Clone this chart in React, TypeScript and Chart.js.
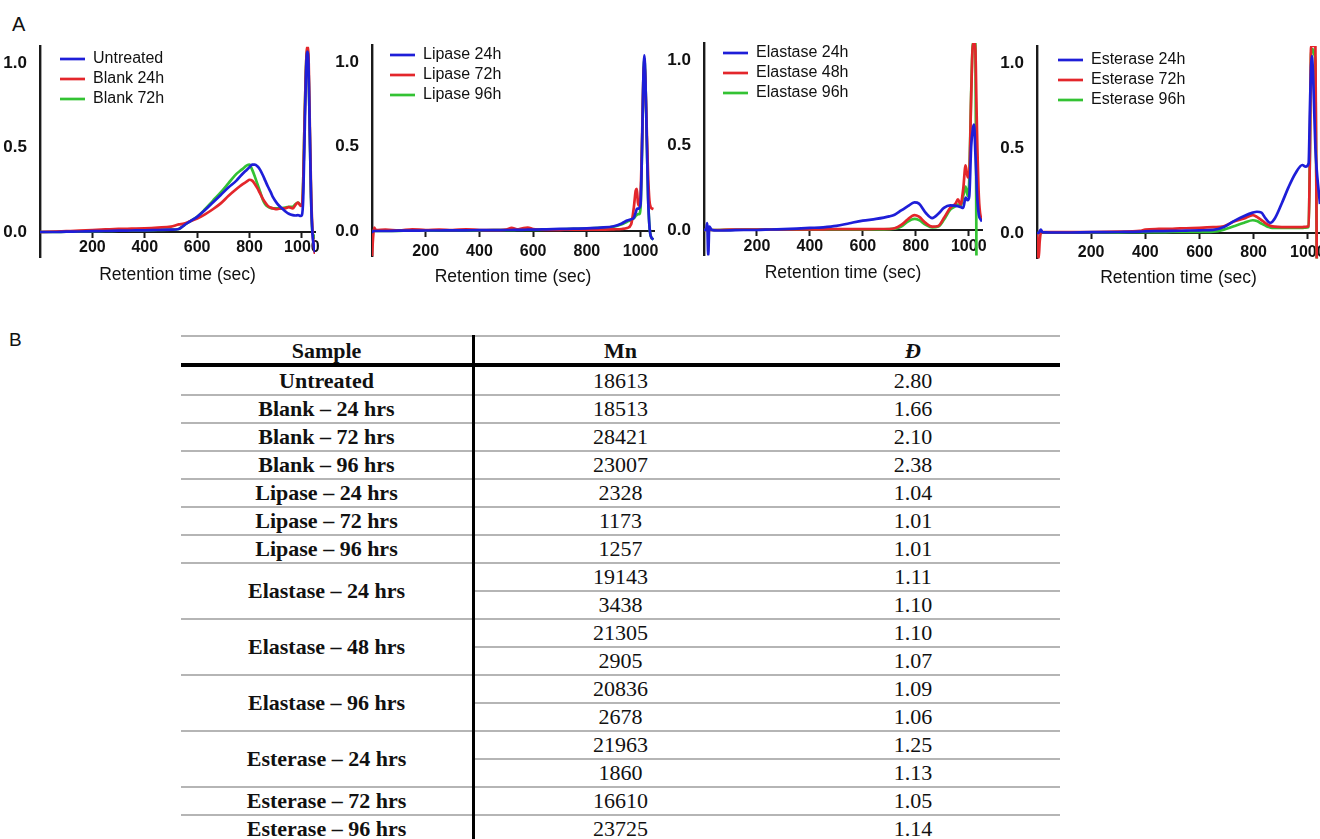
import React, { useEffect, useRef } from "react";
import { Chart, registerables } from "chart.js";

Chart.register(...registerables);

const SANS = '"Liberation Sans", Arial, sans-serif';
const SERIF = '"Liberation Serif", "Times New Roman", serif';

const BLUE = "#1e1ed8";
const RED = "#e3262b";
const GREEN = "#33c233";

// ---------------- Data: panel 1 (Untreated / Blank) ----------------
const timesBlank = [0, 50, 100, 150, 200, 250, 300, 350, 400, 450, 500, 530, 550, 575, 600, 630, 660, 690, 720, 750, 770, 790, 800, 810, 820, 830, 840, 850, 860, 870, 880, 890, 905, 920, 935, 950, 965, 975, 985, 995, 1000, 1005, 1010, 1015, 1020, 1025, 1030, 1035, 1040, 1045, 1050];
const untreated = [0, 0, 0.002, 0.003, 0.005, 0.006, 0.008, 0.009, 0.01, 0.012, 0.014, 0.018, 0.04, 0.065, 0.09, 0.13, 0.175, 0.22, 0.265, 0.305, 0.34, 0.37, 0.385, 0.4, 0.4, 0.39, 0.37, 0.34, 0.305, 0.27, 0.24, 0.205, 0.17, 0.145, 0.125, 0.108, 0.1, 0.098, 0.1, 0.095, 0.1, 0.2, 0.55, 0.9, 1.07, 1.0, 0.6, 0.2, 0.0, -0.08, -0.12];
const blank24 = [0, 0.002, 0.005, 0.008, 0.012, 0.015, 0.018, 0.02, 0.022, 0.026, 0.032, 0.045, 0.05, 0.065, 0.08, 0.105, 0.135, 0.17, 0.215, 0.255, 0.28, 0.3, 0.31, 0.305, 0.285, 0.26, 0.23, 0.2, 0.175, 0.155, 0.145, 0.14, 0.135, 0.14, 0.14, 0.148, 0.14, 0.16, 0.175, 0.155, 0.16, 0.3, 0.65, 0.95, 1.1, 1.05, 0.65, 0.25, 0.02, -0.08, -0.13];
const blank72 = [0, 0, 0.002, 0.003, 0.005, 0.006, 0.008, 0.009, 0.01, 0.012, 0.014, 0.018, 0.04, 0.065, 0.09, 0.135, 0.185, 0.235, 0.29, 0.345, 0.37, 0.395, 0.4, 0.37, 0.33, 0.285, 0.24, 0.195, 0.165, 0.15, 0.143, 0.14, 0.14, 0.14, 0.145, 0.15, 0.15, 0.165, 0.175, 0.16, 0.16, 0.3, 0.65, 0.95, 1.08, 1.0, 0.6, 0.2, 0.0, -0.02, -0.04];

// ---------------- Data: panel 2 (Lipase) ----------------
const timesLipase = [0, 4, 8, 15, 50, 100, 150, 200, 250, 300, 350, 400, 450, 500, 520, 540, 560, 580, 600, 650, 700, 750, 800, 850, 900, 930, 950, 965, 975, 982, 986, 990, 995, 1000, 1005, 1010, 1014, 1018, 1023, 1028, 1033, 1038, 1048];
const lipase24 = [-0.01, 0, 0, 0, 0, 0.002, 0.002, 0.003, 0.003, 0.004, 0.004, 0.005, 0.005, 0.006, 0.006, 0.007, 0.007, 0.008, 0.008, 0.01, 0.012, 0.014, 0.016, 0.02, 0.028, 0.045, 0.062, 0.07, 0.078, 0.11, 0.13, 0.132, 0.135, 0.16, 0.45, 0.88, 1.04, 0.9, 0.55, 0.2, 0.03, -0.03, -0.05];
const lipase72 = [-0.15, -0.04, 0.02, 0.005, 0.008, 0.004, 0.01, 0.006, 0.009, 0.006, 0.01, 0.006, 0.005, 0.008, 0.018, 0.01, 0.016, 0.02, 0.012, 0.006, 0.007, 0.008, 0.008, 0.008, 0.01, 0.012, 0.018, 0.04, 0.14, 0.24, 0.25, 0.17, 0.15, 0.22, 0.5, 0.88, 0.98, 0.88, 0.6, 0.33, 0.18, 0.14, 0.13];
const lipase96 = [0, 0, 0, 0, 0, 0.001, 0.002, 0.002, 0.003, 0.003, 0.004, 0.004, 0.005, 0.005, 0.005, 0.006, 0.006, 0.007, 0.007, 0.008, 0.01, 0.012, 0.014, 0.018, 0.025, 0.04, 0.055, 0.065, 0.075, 0.09, 0.095, 0.1, 0.1, 0.14, 0.45, 0.87, 1.02, 0.9, 0.55, 0.2, 0.03, -0.03, -0.05];

// ---------------- Data: panel 3 (Elastase) ----------------
const timesElastase = [0, 8, 12, 16, 20, 30, 50, 100, 150, 200, 250, 300, 350, 400, 450, 500, 550, 600, 650, 700, 720, 745, 770, 795, 812, 838, 862, 885, 906, 930, 950, 959, 969, 979, 988, 996, 1002, 1009, 1016, 1020, 1025, 1029, 1031, 1038, 1046, 1050];
const elastase24 = [0, 0, 0.04, -0.15, 0.02, 0, -0.003, -0.002, 0, 0, 0.003, 0.005, 0.008, 0.012, 0.016, 0.024, 0.04, 0.055, 0.065, 0.08, 0.09, 0.115, 0.14, 0.162, 0.155, 0.1, 0.07, 0.095, 0.13, 0.145, 0.142, 0.14, 0.135, 0.13, 0.19, 0.175, 0.2, 0.49, 0.6, 0.62, 0.45, 0.3, 0.22, 0.09, 0.06, 0.05];
const elastase48 = [0, 0, 0, 0, 0, 0, 0, 0.002, 0.002, 0.003, 0.003, 0.003, 0.004, 0.004, 0.004, 0.005, 0.005, 0.005, 0.006, 0.006, 0.01, 0.03, 0.063, 0.088, 0.078, 0.04, 0.02, 0.024, 0.07, 0.13, 0.155, 0.18, 0.15, 0.24, 0.38, 0.31, 0.33, 0.78, 1.1, 1.1, 1.06, 0.75, 0.59, 0.2, 0.07, 0.06];
const elastase96 = [0, 0, 0, 0, 0, 0, 0, 0.001, 0.002, 0.002, 0.002, 0.003, 0.003, 0.003, 0.003, 0.004, 0.004, 0.004, 0.004, 0.005, 0.008, 0.02, 0.05, 0.065, 0.058, 0.03, 0.015, 0.02, 0.06, 0.12, 0.14, 0.15, 0.14, 0.2, 0.255, 0.2, 0.3, 0.8, 1.1, 1.1, 1.1, -0.16, null, null, null, null];

// ---------------- Data: panel 4 (Esterase) ----------------
const timesEsterase = [0, 6, 10, 14, 20, 50, 100, 200, 300, 380, 400, 450, 500, 550, 600, 650, 690, 727, 765, 797, 812, 829, 842, 855, 862, 878, 904, 929, 954, 980, 992, 1003, 1008, 1012, 1015, 1019, 1024, 1028, 1033, 1038, 1045];
const esterase24 = [0, 0, 0.01, 0.02, 0.005, 0.003, 0.003, 0.005, 0.006, 0.008, 0.01, 0.011, 0.012, 0.014, 0.016, 0.018, 0.035, 0.07, 0.1, 0.12, 0.125, 0.12, 0.09, 0.065, 0.06, 0.085, 0.175, 0.27, 0.35, 0.4, 0.39, 0.41, 0.75, 0.98, 1.04, 0.95, 0.7, 0.5, 0.37, 0.28, 0.17];
const esterase72 = [0, -0.15, -0.05, 0, 0.005, 0.005, 0.005, 0.006, 0.008, 0.012, 0.02, 0.024, 0.025, 0.028, 0.03, 0.034, 0.04, 0.067, 0.086, 0.105, 0.095, 0.076, 0.06, 0.047, 0.042, 0.037, 0.035, 0.035, 0.035, 0.035, 0.036, 0.04, 0.5, 1.1, 1.1, 1.1, 1.1, 1.1, -0.16, null, null];
const esterase96 = [0, 0, 0, 0, 0.003, 0.003, 0.003, 0.004, 0.004, 0.005, 0.005, 0.005, 0.006, 0.006, 0.006, 0.008, 0.02, 0.04, 0.06, 0.075, 0.07, 0.055, 0.045, 0.035, 0.032, 0.03, 0.03, 0.03, 0.03, 0.03, 0.032, 0.035, 0.5, 1.05, 1.08, 1.08, 1.05, 1.0, -0.16, null, null];

// ---------------- Axis ticks ----------------
const xTickValues = [200, 400, 600, 800, 1000];
const yTickValues = [0, 0.5, 1.0];
const Y_MIN = -0.15;
const Y_MAX = 1.1;
const X_TITLE = "Retention time (sec)";

// ---------------- Table data ----------------
const tableHeaders = ["Sample", "Mn", "Đ"];
const tableSamples = ["Untreated", "Blank – 24 hrs", "Blank – 72 hrs", "Blank – 96 hrs", "Lipase – 24 hrs", "Lipase – 72 hrs", "Lipase – 96 hrs", "Elastase – 24 hrs", "Elastase – 48 hrs", "Elastase – 96 hrs", "Esterase – 24 hrs", "Esterase – 72 hrs", "Esterase – 96 hrs"];
const tableMn = [["18613"], ["18513"], ["28421"], ["23007"], ["2328"], ["1173"], ["1257"], ["19143", "3438"], ["21305", "2905"], ["20836", "2678"], ["21963", "1860"], ["16610"], ["23725"]];
const tableDispersity = [["2.80"], ["1.66"], ["2.10"], ["2.38"], ["1.04"], ["1.01"], ["1.01"], ["1.11", "1.10"], ["1.10", "1.07"], ["1.09", "1.06"], ["1.25", "1.13"], ["1.05"], ["1.14"]];

// ---------------- Panels ----------------
type Series = { label: string; values: (number | null)[]; color: string };
type Layout = {
  canvasLeft: number; canvasWidth: number; plotLeft: number; plotRight: number;
  yZeroPx: number; yOnePx: number; xMax: number; tickLabelY: number; titleY: number;
  legendX: number; legendY: number;
};
type Panel = { times: number[]; series: Series[]; layout: Layout };

const CANVAS_H = 300;

const panels: Panel[] = [
  {
    times: timesBlank,
    series: [
      { label: "Untreated", values: untreated, color: BLUE },
      { label: "Blank 24h", values: blank24, color: RED },
      { label: "Blank 72h", values: blank72, color: GREEN },
    ],
    layout: { canvasLeft: 0, canvasWidth: 330, plotLeft: 40, plotRight: 315, yZeroPx: 232, yOnePx: 63.5, xMax: 1050, tickLabelY: 248, titleY: 275, legendX: 60, legendY: 59 },
  },
  {
    times: timesLipase,
    series: [
      { label: "Lipase 24h", values: lipase24, color: BLUE },
      { label: "Lipase 72h", values: lipase72, color: RED },
      { label: "Lipase 96h", values: lipase96, color: GREEN },
    ],
    layout: { canvasLeft: 330, canvasWidth: 330, plotLeft: 372, plotRight: 654, yZeroPx: 231, yOnePx: 62, xMax: 1050, tickLabelY: 252, titleY: 277, legendX: 390, legendY: 55 },
  },
  {
    times: timesElastase,
    series: [
      { label: "Elastase 24h", values: elastase24, color: BLUE },
      { label: "Elastase 48h", values: elastase48, color: RED },
      { label: "Elastase 96h", values: elastase96, color: GREEN },
    ],
    layout: { canvasLeft: 660, canvasWidth: 330, plotLeft: 704, plotRight: 982, yZeroPx: 230, yOnePx: 60, xMax: 1050, tickLabelY: 247, titleY: 273, legendX: 723, legendY: 53 },
  },
  {
    times: timesEsterase,
    series: [
      { label: "Esterase 24h", values: esterase24, color: BLUE },
      { label: "Esterase 72h", values: esterase72, color: RED },
      { label: "Esterase 96h", values: esterase96, color: GREEN },
    ],
    layout: { canvasLeft: 990, canvasWidth: 330, plotLeft: 1037, plotRight: 1320, yZeroPx: 233, yOnePx: 63, xMax: 1045, tickLabelY: 253, titleY: 278, legendX: 1058, legendY: 60 },
  },
];

const LEGEND_FONT = 16;
const LEGEND_PAD = 4;

const legendPlacer = {
  id: "legendPlacer",
  afterLayout(chart: any, _args: any, opts: any) {
    const lg = chart.legend;
    if (!lg) return;
    lg.left = opts.x;
    lg.top = opts.y;
    lg.width = 240;
    lg.height = 90;
    lg.right = opts.x + 240;
    lg.bottom = opts.y + 90;
  },
};

function ChromPanel({ panel }: { panel: Panel }) {
  const ref = useRef<HTMLCanvasElement>(null);
  const L = panel.layout;

  useEffect(() => {
    const pxPerUnit = L.yZeroPx - L.yOnePx;
    const plotTop = L.yZeroPx - Y_MAX * pxPerUnit;
    const plotBottom = L.yZeroPx - Y_MIN * pxPerUnit;
    const tickFontLH = 16 * 1.2;
    const titleFontLH = 17.5 * 1.2;

    const chart = new Chart(ref.current as HTMLCanvasElement, {
      type: "line",
      data: {
        datasets: panel.series.map((s) => ({
          label: s.label,
          data: panel.times.map((t, i) => ({ x: t, y: s.values[i] })),
          borderColor: s.color,
          backgroundColor: s.color,
          borderWidth: 2.7,
          pointRadius: 0,
          cubicInterpolationMode: "monotone",
          spanGaps: false,
        })) as any,
      },
      options: {
        responsive: false,
        animation: false,
        events: [],
        devicePixelRatio: 1,
        layout: {
          autoPadding: false,
          padding: {
            left: 0,
            top: plotTop,
            right: L.canvasWidth - (L.plotRight - L.canvasLeft),
            bottom: CANVAS_H - plotBottom,
          },
        },
        plugins: {
          tooltip: { enabled: false },
          legend: {
            display: true,
            position: "chartArea",
            align: "start",
            labels: {
              usePointStyle: true,
              pointStyle: "line",
              pointStyleWidth: 25,
              boxHeight: LEGEND_FONT,
              padding: LEGEND_PAD,
              color: "#111",
              font: { family: SANS, size: LEGEND_FONT },
            },
          },
          legendPlacer: {
            x: L.legendX - L.canvasLeft - LEGEND_PAD,
            y: L.legendY - LEGEND_PAD - LEGEND_FONT / 2,
          },
        } as any,
        scales: {
          y: {
            type: "linear",
            position: "left",
            min: Y_MIN,
            max: Y_MAX,
            afterBuildTicks: (s: any) => {
              s.ticks = yTickValues.map((v) => ({ value: v }));
            },
            afterFit: (s: any) => {
              s.width = L.plotLeft - L.canvasLeft;
            },
            ticks: {
              padding: 5,
              color: "#111",
              font: { family: SANS, size: 17, weight: "bold" },
              callback: (v: any) => Number(v).toFixed(1),
            },
            grid: { display: false },
            border: { display: true, color: "#1a1a1a", width: 2.4 },
          },
          x: {
            type: "linear",
            position: { y: 0 } as any,
            min: 0,
            max: L.xMax,
            afterBuildTicks: (s: any) => {
              s.ticks = xTickValues.map((v) => ({ value: v }));
            },
            afterFit: (s: any) => {
              s.height = L.titleY - L.yZeroPx + titleFontLH / 2;
              s.paddingLeft = 0;
              s.paddingRight = 0;
            },
            ticks: {
              autoSkip: false,
              maxRotation: 0,
              padding: L.tickLabelY - L.yZeroPx - 5 - tickFontLH / 2,
              color: "#111",
              font: { family: SANS, size: 16, weight: "bold" },
              callback: (v: any) => String(v),
            },
            grid: {
              display: true,
              drawOnChartArea: false,
              drawTicks: true,
              tickLength: 5,
              tickWidth: 2,
              tickColor: "#1a1a1a",
            },
            border: { display: true, color: "#1a1a1a", width: 2 },
            title: {
              display: true,
              text: X_TITLE,
              color: "#111",
              padding: 0,
              font: { family: SANS, size: 17.5 },
            },
          },
        },
      } as any,
      plugins: [legendPlacer as any],
    });
    return () => chart.destroy();
  }, []);

  return (
    <canvas
      ref={ref}
      width={L.canvasWidth}
      height={CANVAS_H}
      style={{ position: "absolute", left: L.canvasLeft, top: 0, width: L.canvasWidth, height: CANVAS_H }}
    />
  );
}

// ---------------- Table ----------------
const T_LEFT = 181;
const T_RIGHT = 1060;
const T_TOP = 335;
const T_HEAD_LINE = 363;
const T_ROW0 = 367;
const T_ROW_H = 28;
const T_DIV_X = 472;
const T_DIV_W = 3;
const COL2_L = T_DIV_X + T_DIV_W;
const COL2_R = 766;
const GRAY = "#b5b5b5";

function DataTable() {
  const els: React.ReactNode[] = [];
  const textStyle = (left: number, width: number, top: number, height: number, bold: boolean, italic = false): React.CSSProperties => ({
    position: "absolute",
    left,
    width,
    top,
    height,
    lineHeight: `${height}px`,
    textAlign: "center",
    fontFamily: SERIF,
    fontSize: 22,
    fontWeight: bold ? "bold" : "normal",
    fontStyle: italic ? "italic" : "normal",
    color: "#111",
    whiteSpace: "nowrap",
  });

  els.push(<div key="topline" style={{ position: "absolute", left: T_LEFT, width: T_RIGHT - T_LEFT, top: T_TOP, height: 1.5, background: GRAY }} />);
  els.push(<div key="h0" style={textStyle(T_LEFT, T_DIV_X - T_LEFT, T_TOP + 2, 28, true)}>{tableHeaders[0]}</div>);
  els.push(<div key="h1" style={textStyle(COL2_L, COL2_R - COL2_L, T_TOP + 2, 28, true)}>{tableHeaders[1]}</div>);
  els.push(<div key="h2" style={textStyle(COL2_R, T_RIGHT - COL2_R, T_TOP + 2, 28, true, true)}>{tableHeaders[2]}</div>);
  els.push(<div key="thick" style={{ position: "absolute", left: T_LEFT, width: T_RIGHT - T_LEFT, top: T_HEAD_LINE, height: 3.5, background: "#000" }} />);

  let row = 0;
  tableSamples.forEach((name, g) => {
    const n = tableMn[g].length;
    const gTop = T_ROW0 + row * T_ROW_H;
    els.push(<div key={`s${g}`} style={textStyle(T_LEFT, T_DIV_X - T_LEFT, gTop, n * T_ROW_H, true)}>{name}</div>);
    for (let k = 0; k < n; k++) {
      const rTop = gTop + k * T_ROW_H;
      els.push(<div key={`m${g}-${k}`} style={textStyle(COL2_L, COL2_R - COL2_L, rTop, T_ROW_H, false)}>{tableMn[g][k]}</div>);
      els.push(<div key={`d${g}-${k}`} style={textStyle(COL2_R, T_RIGHT - COL2_R, rTop, T_ROW_H, false)}>{tableDispersity[g][k]}</div>);
      if (k < n - 1) {
        els.push(<div key={`sub${g}-${k}`} style={{ position: "absolute", left: COL2_L, width: T_RIGHT - COL2_L, top: rTop + T_ROW_H - 1, height: 1.5, background: GRAY }} />);
      }
    }
    row += n;
    const sepY = T_ROW0 + row * T_ROW_H - 1;
    els.push(<div key={`sep${g}`} style={{ position: "absolute", left: T_LEFT, width: T_RIGHT - T_LEFT, top: sepY, height: 1.5, background: GRAY }} />);
  });

  els.push(<div key="vdiv" style={{ position: "absolute", left: T_DIV_X, width: T_DIV_W, top: T_TOP, height: 839 - T_TOP, background: "#000" }} />);
  return <>{els}</>;
}

export default function App() {
  return (
    <div style={{ position: "absolute", left: 0, top: 0, width: 1320, height: 839, overflow: "hidden", background: "#fff" }}>
      <div style={{ position: "absolute", left: 12, top: 14, fontFamily: SANS, fontSize: 20, lineHeight: "20px", color: "#111" }}>A</div>
      <div style={{ position: "absolute", left: 9, top: 330, fontFamily: SANS, fontSize: 19, lineHeight: "19px", color: "#111" }}>B</div>
      {panels.map((p, i) => (
        <ChromPanel key={i} panel={p} />
      ))}
      <DataTable />
    </div>
  );
}
